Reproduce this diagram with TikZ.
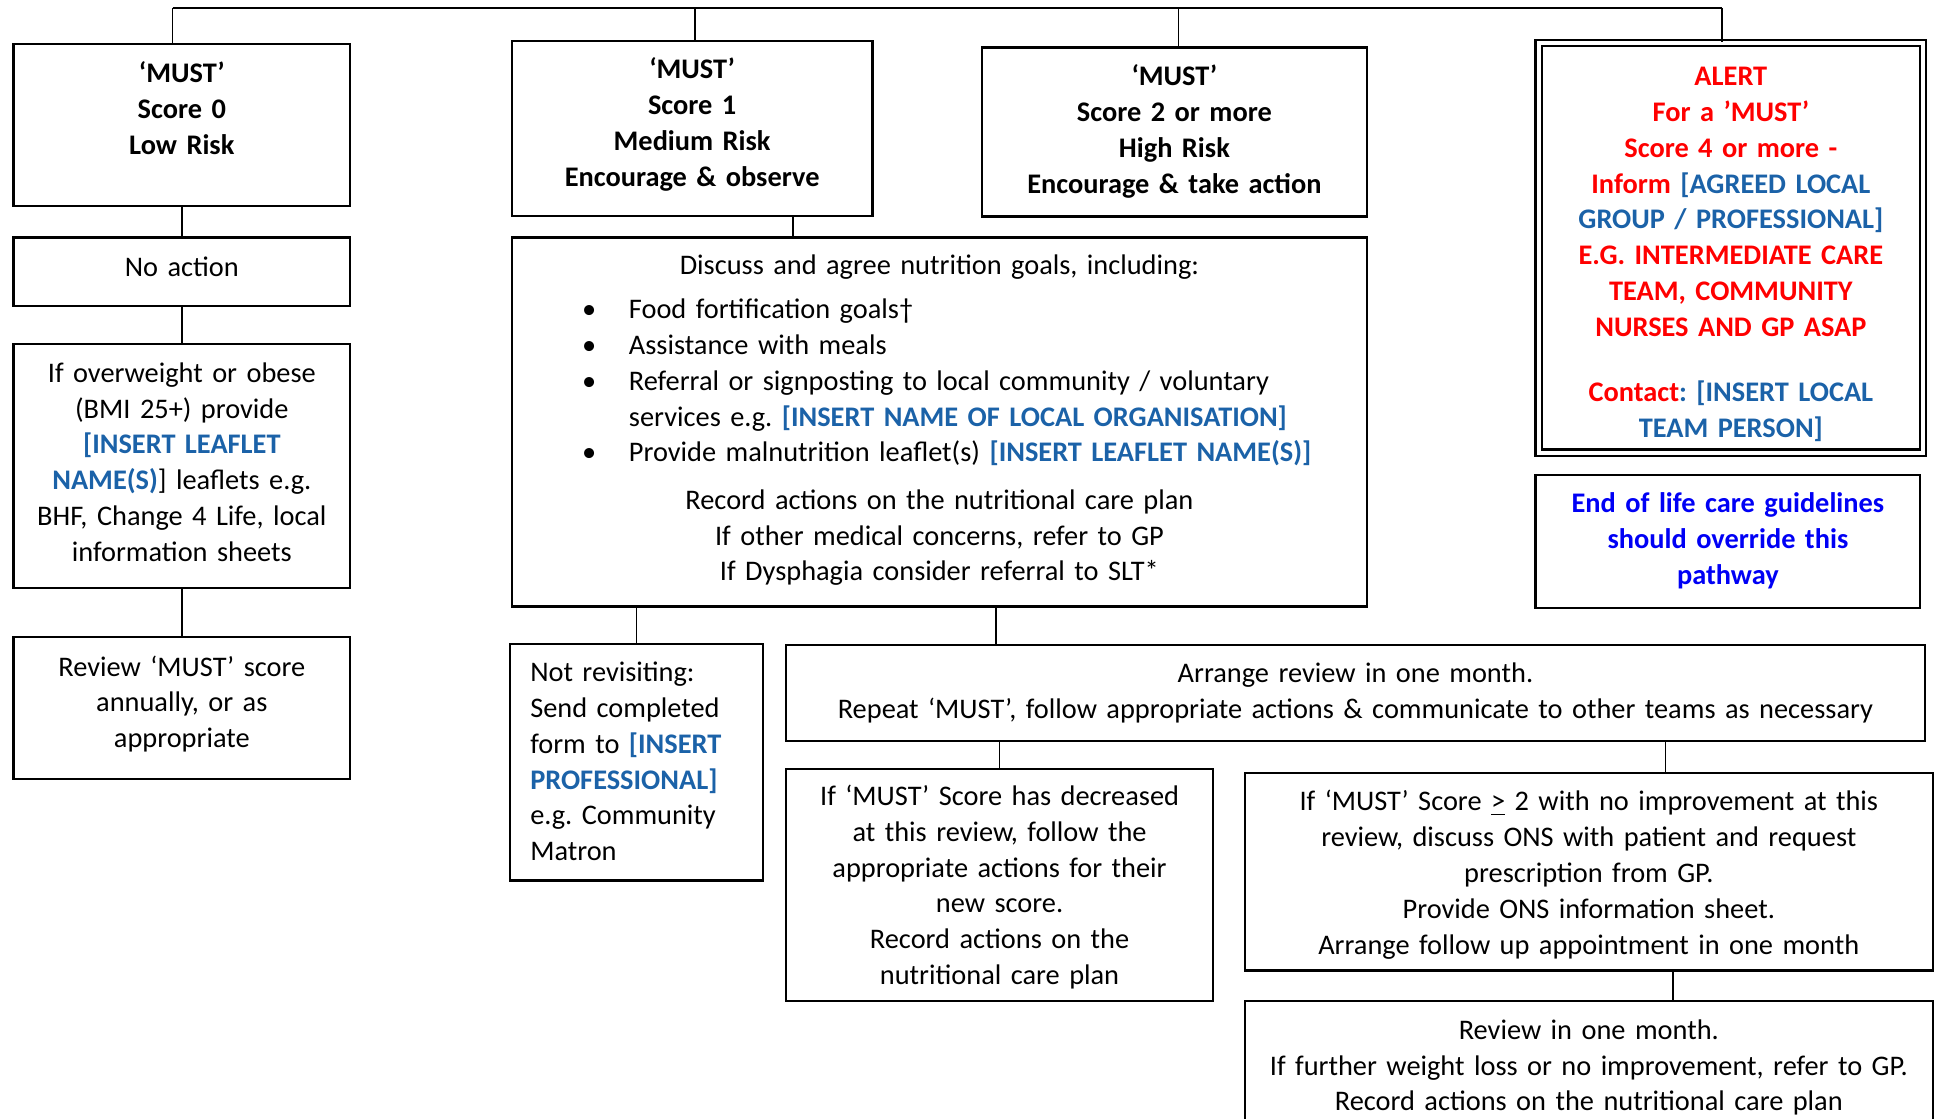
\documentclass[tikz,border=0pt]{standalone}
\usepackage{fontspec}
\setmainfont{Carlito}
\usepackage{tikz}
\usepackage{xcolor}
\definecolor{insertblue}{RGB}{27,98,168}
\definecolor{alertred}{RGB}{255,0,0}
\definecolor{lifeblue}{RGB}{0,0,245}
\newcommand{\boxfont}{\fontsize{11.5}{14.5}\selectfont\frenchspacing}
\newcommand{\insblue}[1]{\textcolor{insertblue}{\textbf{#1}}}
\newcommand{\bulletline}[1]{\makebox[\linewidth][l]{\hspace*{28.5pt}\makebox[19pt][l]{\textbullet}#1}}
\newcommand{\indentline}[1]{\makebox[\linewidth][l]{\hspace*{47.5pt}#1}}
\tikzstyle{stepbox} = [rectangle, draw, line width=0.9pt, inner sep=0pt, anchor=north west, align=center, font=\boxfont]
\tikzstyle{headbox} = [stepbox, font=\boxfont\bfseries]

\begin{document}
\begin{tikzpicture}[-,x=0.5pt,y=-0.5pt,line width=0.6pt]
  \useasboundingbox (0,0) rectangle (1568,907);
  \clip (0,0) rectangle (1568,907);

  % the four scores
  \node[headbox, text width=136.5pt, text height=15.5pt, text depth=50pt] (Score_0) at (10,35) {‘MUST’\\Score 0\\Low Risk};
  \node[headbox, text width=146.25pt, text height=15.3pt, text depth=55.75pt] (Score_1) at (414,32.4) {‘MUST’\\Score 1\\Medium Risk\\Encourage \& observe};
  \node[headbox, text width=156.25pt, text height=15.5pt, text depth=53pt] (Score_2) at (795,37.6) {‘MUST’\\Score 2 or more\\High Risk\\Encourage \& take action};
  \node[headbox, double, double distance=1.6pt, text=alertred, text width=155.9pt, text height=17.2pt, text depth=148.7pt] (Alert) at (1246.5,34.2) {ALERT\\For a ’MUST’\\Score 4 or more -\\Inform \textcolor{insertblue}{[AGREED LOCAL}\\\textcolor{insertblue}{GROUP / PROFESSIONAL]}\\E.G. INTERMEDIATE CARE\\TEAM, COMMUNITY\\NURSES AND GP ASAP\\[12pt]Contact\textcolor{insertblue}{: [INSERT LOCAL}\\\textcolor{insertblue}{TEAM PERSON]}};
  \node[headbox, text=lifeblue, text width=156pt, text height=15.25pt, text depth=38.5pt] (End_Life) at (1244,384.3) {End of life care guidelines\\should override this\\pathway};

  % low risk column
  \node[stepbox, text width=136.5pt, text height=15.9pt, text depth=12pt] (No_Action) at (10,191.6) {No action};
  \node[stepbox, text width=136.5pt, text height=15.5pt, text depth=83.5pt] (Over_Weight) at (10,278) {If overweight or obese\\(BMI 25+) provide\\\insblue{[INSERT LEAFLET}\\\insblue{NAME(S)}] leaflets e.g.\\BHF, Change 4 Life, local\\information sheets};
  \node[stepbox, text width=136.5pt, text height=15.8pt, text depth=41.65pt] (Review_Zero) at (10,515.6) {Review ‘MUST’ score\\annually, or as\\appropriate};

  % medium and high risk
  \node[stepbox, text width=346.75pt, text height=14.9pt, text depth=134.7pt] (Discuss) at (414,191.6) {Discuss and agree nutrition goals, including:\\[3.6pt]
    \bulletline{Food fortification goals†}\\
    \bulletline{Assistance with meals}\\
    \bulletline{Referral or signposting to local community / voluntary}\\
    \indentline{services e.g. \insblue{[INSERT NAME OF LOCAL ORGANISATION]}}\\
    \bulletline{Provide malnutrition leaflet(s) \insblue{[INSERT LEAFLET NAME(S)]}}\\[4.7pt]
    Record actions on the nutritional care plan\\If other medical concerns, refer to GP\\If Dysphagia consider referral to SLT*};
  \node[stepbox, align=left, inner xsep=8.25pt, text width=86pt, text height=15.4pt, text depth=80.6pt] (Not_Rev) at (412.5,521) {Not revisiting:\\Send completed\\form to \insblue{[INSERT}\\\insblue{PROFESSIONAL]}\\e.g. Community\\Matron};
  \node[stepbox, text width=461.5pt, text height=15.2pt, text depth=23.8pt] (Arrange) at (636.5,522) {Arrange review in one month.\\Repeat ‘MUST’, follow appropriate actions \& communicate to other teams as necessary};
  \node[stepbox, text width=173pt, text height=14.8pt, text depth=79.15pt] (Decreased) at (636.5,622.7) {If ‘MUST’ Score has decreased\\at this review, follow the\\appropriate actions for their\\new score.\\Record actions on the\\nutritional care plan};
  \node[stepbox, text width=278.75pt, text height=15.3pt, text depth=64.7pt] (ONS) at (1008.5,626) {If ‘MUST’ Score \underline{>} 2 with no improvement at this\\review, discuss ONS with patient and request\\prescription from GP.\\Provide ONS information sheet.\\Arrange follow up appointment in one month};
  \node[stepbox, text width=278.75pt, text height=15.6pt, text depth=41.5pt] (Review_Month) at (1008.5,810.6) {Review in one month.\\If further weight loss or no improvement, refer to GP.\\Record actions on the nutritional care plan};

  % top bar
  \coordinate (Bus_L) at (140,6.4);
  \coordinate (Bus_R) at (1396,6.4);
  \coordinate (Tap_1) at (563.5,6.4);
  \coordinate (Tap_2) at (955.5,6.4);
  \path (Bus_L) edge (Bus_R);
  \path (Bus_L) edge (Bus_L |- Score_0.north);
  \path (Tap_1) edge (Tap_1 |- Score_1.north);
  \path (Tap_2) edge (Tap_2 |- Score_2.north);
  \path (Bus_R) edge (Bus_R |- Alert.north);

  % links below
  \coordinate (Tap_D) at (643,0);
  \coordinate (Tap_A) at (807.5,0);
  \coordinate (Tap_O) at (1350.5,0);
  \coordinate (Tap_M) at (1356.5,0);
  \path (Score_0.south) edge (No_Action.north);
  \path (No_Action.south) edge (Over_Weight.north);
  \path (Over_Weight.south) edge (Review_Zero.north);
  \path (Tap_D |- Score_1.south) edge (Tap_D |- Discuss.north);
  \path (Not_Rev.north |- Discuss.south) edge (Not_Rev.north);
  \path (Tap_A |- Discuss.south) edge (Tap_A |- Arrange.north);
  \path (Decreased.north |- Arrange.south) edge (Decreased.north);
  \path (Tap_O |- Arrange.south) edge (Tap_O |- ONS.north);
  \path (Tap_M |- ONS.south) edge (Tap_M |- Review_Month.north);
\end{tikzpicture}
\end{document}
